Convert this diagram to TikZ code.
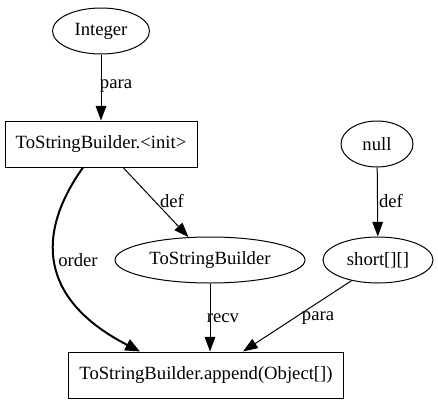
\documentclass[tikz,border=0pt]{standalone}
\usepackage{fontspec}
\setmainfont{Liberation Serif}
\usetikzlibrary{arrows.meta,shapes.geometric}

\tikzset{
  ell/.style={draw, ellipse, line width=0.75pt, minimum height=34.5pt, inner sep=1pt},
  box/.style={draw, rectangle, line width=0.75pt, minimum height=34.5pt, inner sep=2pt},
  edge/.style={-{Triangle[length=11pt,width=8pt]}, line width=0.75pt},
  lbl/.style={inner sep=0pt}
}

\begin{document}
\begin{tikzpicture}[x=0.75pt,y=-0.75pt,font=\rmfamily\fontsize{14}{16}\selectfont]
\useasboundingbox (0,0) rectangle (438,407);

\node[ell, minimum width=72.75pt] (integer) at (101,31) {Integer};
\node[box, minimum width=144pt] (init) at (101,144) {ToStringBuilder.<init>};
\node[ell, minimum width=54pt] (null) at (377,144) {null};
\node[ell, minimum width=142.5pt] (tsb) at (210,260) {ToStringBuilder};
\node[ell, minimum width=82.5pt] (short) at (378,260) {short[][]};
\node[box, minimum width=206pt] (append) at (206,375) {ToStringBuilder.append(Object[])};

\draw[edge] (integer) -- (init);
\draw[edge] (init) -- (tsb);
\draw[edge, line width=1.5pt, -{Triangle[length=11pt,width=9pt]}] ([xshift=-13.5pt]init.south) .. controls (35,235) and (40,300) .. ([xshift=-49.5pt]append.north);
\draw[edge] (null) -- (short);
\draw[edge] (tsb.south) -- (tsb.south |- append.north);
\draw[edge] (short.218) -- ([xshift=27.75pt]append.north);

\node[lbl] (l1) at (116,86) {para};
\node[lbl] (l2) at (172,201) {def};
\node[lbl] (l3) at (78,260) {order};
\node[lbl] (l4) at (391,201) {def};
\node[lbl] (l5) at (223,318) {recv};
\node[lbl] (l6) at (318,318) {para};

\end{tikzpicture}
\end{document}
